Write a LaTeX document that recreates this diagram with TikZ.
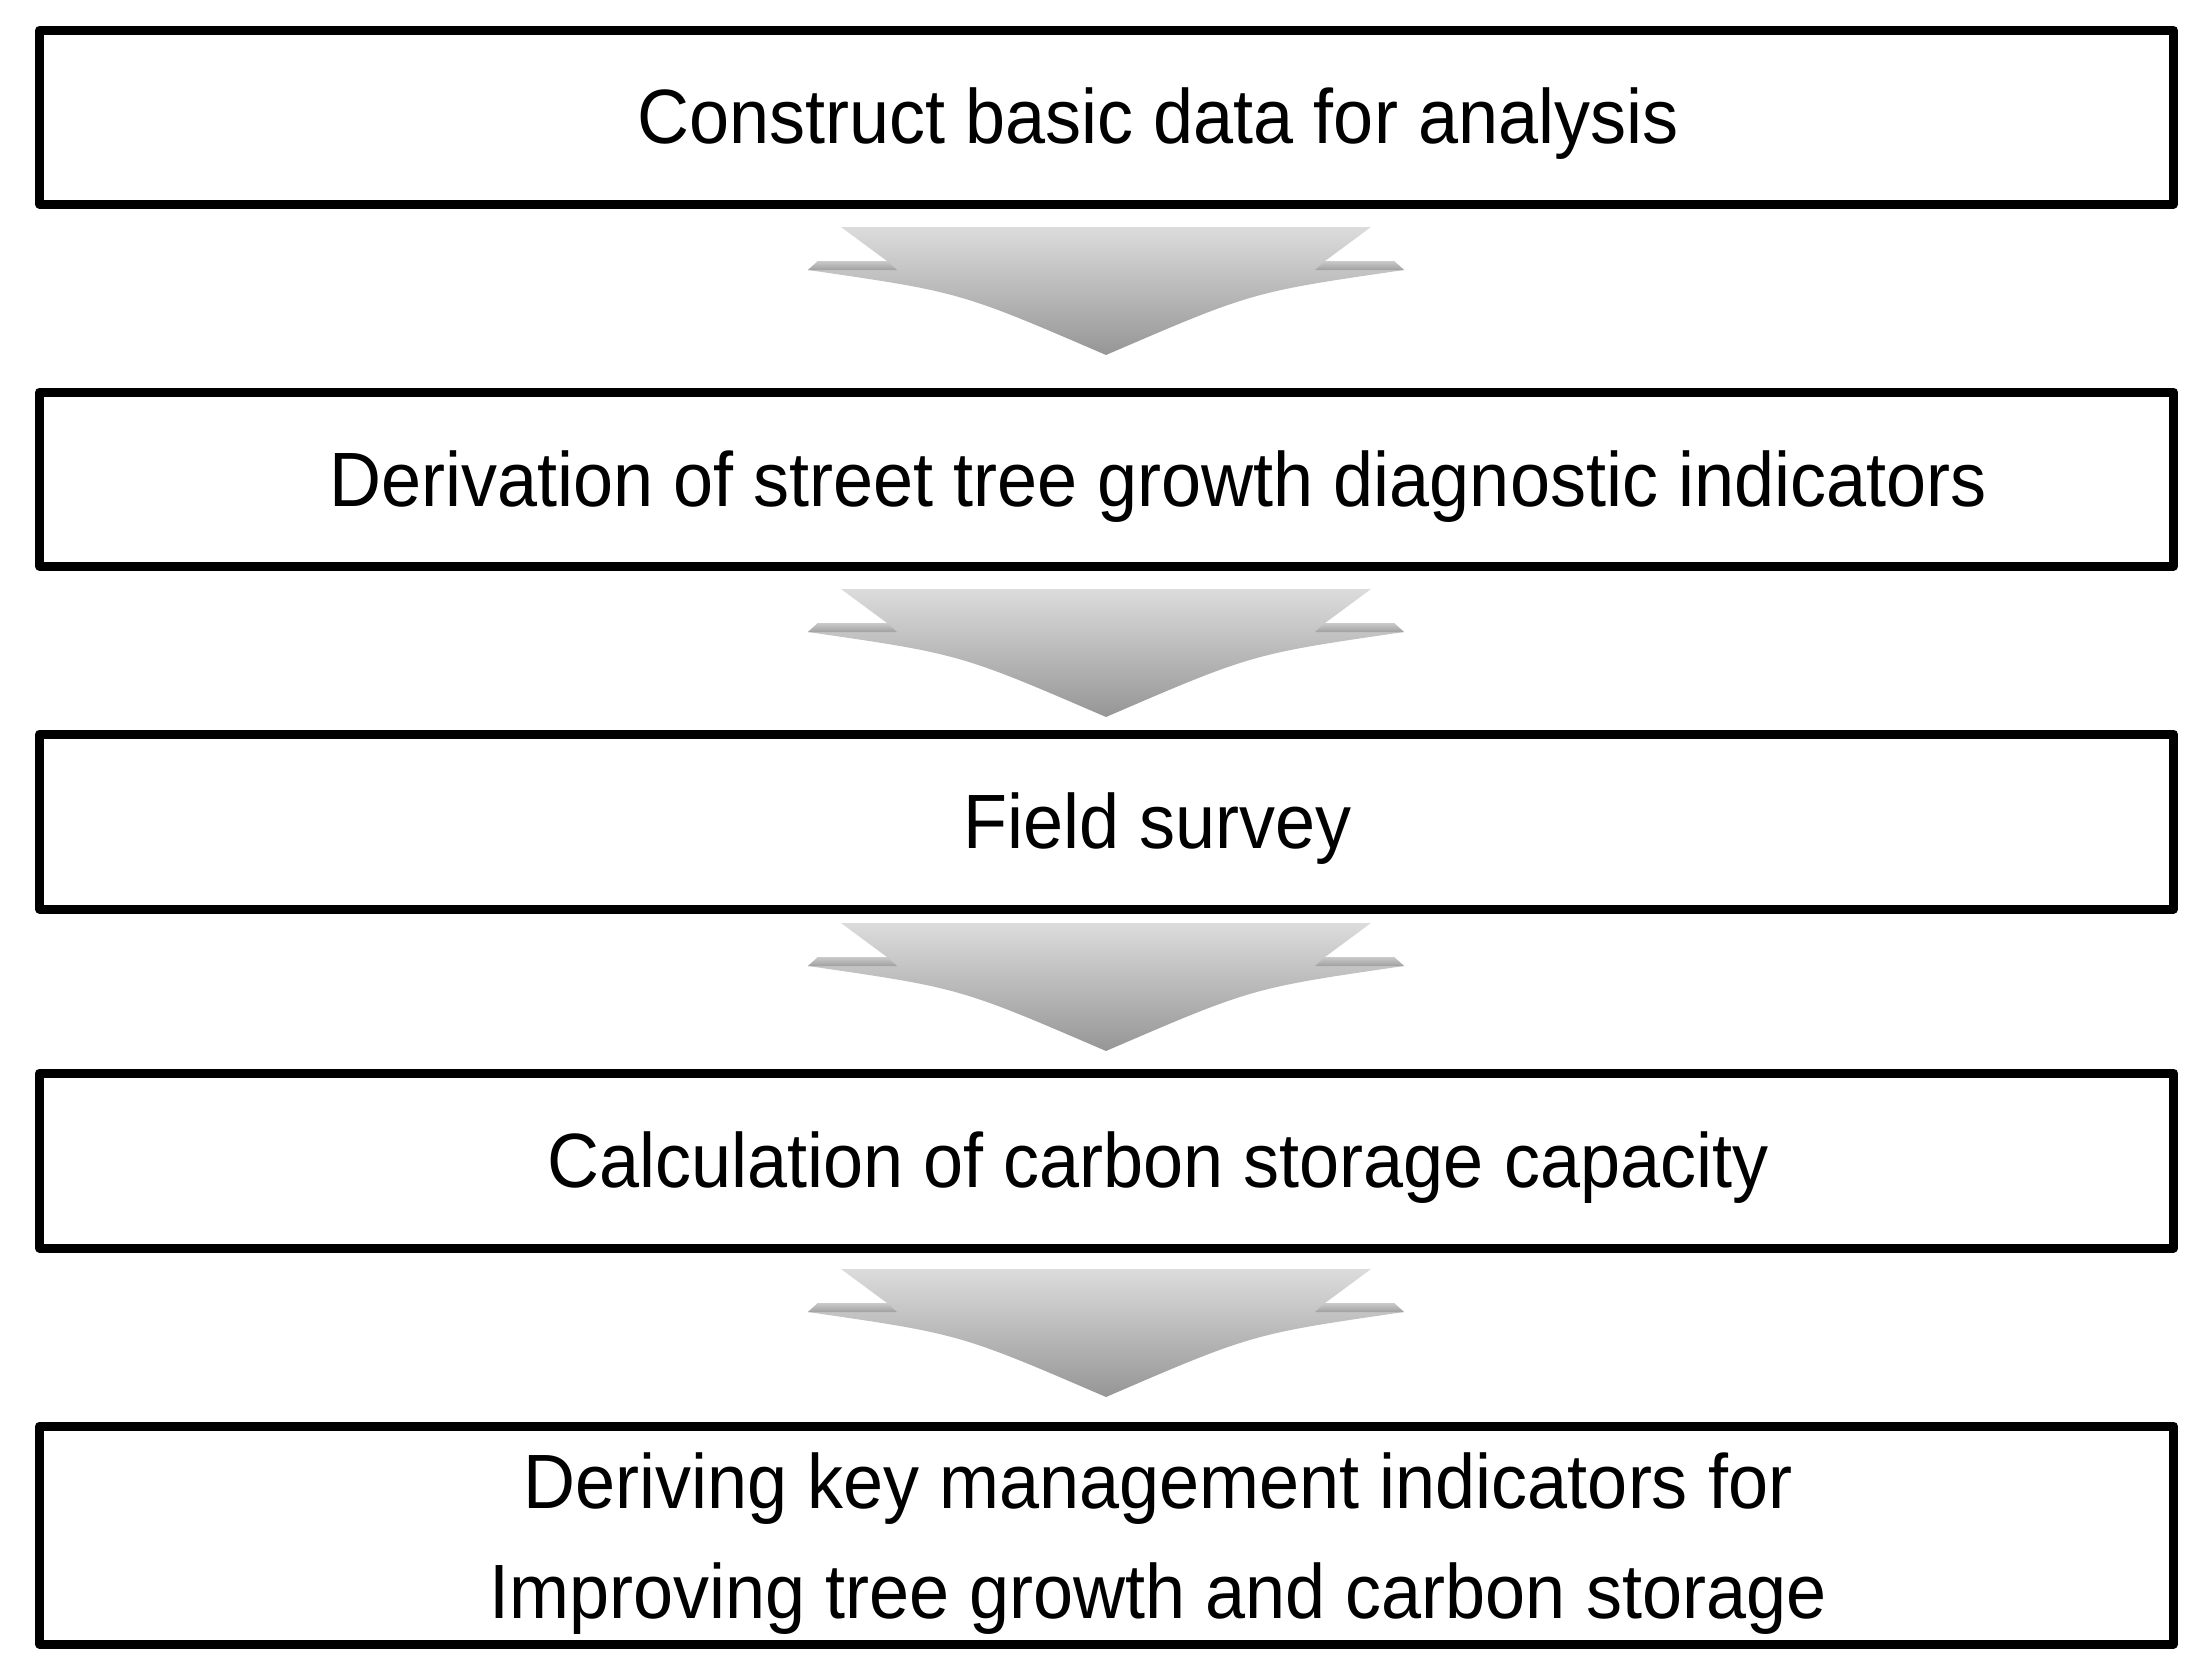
\documentclass[tikz,border=0pt]{standalone}
\usepackage{fontspec}
\setmainfont{Liberation Sans}[FakeStretch=0.935]
\definecolor{arrtop}{HTML}{DCDCDC}
\definecolor{arrbot}{HTML}{969696}
\definecolor{wingtop}{HTML}{CACACA}
\definecolor{wingbot}{HTML}{A0A0A0}
\tikzset{
  stepbox/.style={draw=black, line width=9pt, line join=round, minimum width=2134pt, inner sep=0pt},
  txt/.style={anchor=base, inner sep=0pt, font=\fontsize{77}{92}\selectfont},
  blockarrow/.pic={
    \shade[top color=arrtop, bottom color=arrbot]
      (-265,0) -- (265,0) -- (219,34) -- (288,34) -- (298,43)
      .. controls (146,65) .. (0,128)
      .. controls (-146,65) .. (-298,43)
      -- (-288,34) -- (-219,34) -- cycle;
    \shade[top color=wingtop, bottom color=wingbot]
      (-288,34) -- (-219,34) -- (-209,43) -- (-298,43) -- cycle;
    \shade[top color=wingtop, bottom color=wingbot]
      (288,34) -- (219,34) -- (209,43) -- (298,43) -- cycle;
  }
}
\begin{document}
\begin{tikzpicture}[x=1pt,y=-1pt]
\useasboundingbox[fill=white] (0,0) rectangle (2204,1675);

\node[stepbox, minimum height=173.5pt] (b1) at (1106.5,117.25) {};
\node[stepbox, minimum height=174pt] (b2) at (1106.5,479) {};
\node[stepbox, minimum height=175pt] (b3) at (1106.5,821.5) {};
\node[stepbox, minimum height=175pt] (b4) at (1106.5,1160.5) {};
\node[stepbox, minimum height=218pt] (b5) at (1106.5,1535) {};

\node[txt] (t1) at (1158,144) {Construct basic data for analysis};
\node[txt] (t2) at (1158,506) {Derivation of street tree growth diagnostic indicators};
\node[txt] (t3) at (1158,848.5) {Field survey};
\node[txt] (t4) at (1158,1187.5) {Calculation of carbon storage capacity};
\node[txt] (t5a) at (1158,1508) {Deriving key management indicators for};
\node[txt] (t5b) at (1158,1618) {Improving tree growth and carbon storage};

\pic (a1) at (1106,227) {blockarrow};
\pic (a2) at (1106,589) {blockarrow};
\pic (a3) at (1106,923) {blockarrow};
\pic (a4) at (1106,1269) {blockarrow};
\end{tikzpicture}
\end{document}
